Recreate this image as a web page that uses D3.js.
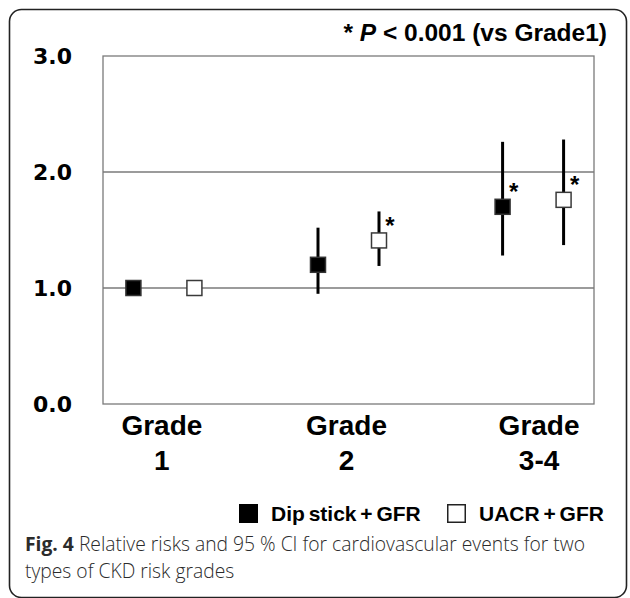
<!DOCTYPE html>
<html lang="en">
<head>
    <meta charset="utf-8" />
    <title>CKD risk grades - relative risks</title>
    <script src="https://cdn.jsdelivr.net/npm/d3@7"></script>
    <style>
        body { margin: 0; background: #fff; }
        svg { display: block; }
    </style>
</head>
<body>
    <div id="chart"></div>
    <script>
        // data
        var grades = ["Grade 1", "Grade 2", "Grade 3-4"];
        var gradeLines = [["Grade", "1"], ["Grade", "2"], ["Grade", "3-4"]];
        var series = ["Dip stick + GFR", "UACR + GFR"];

        var dipRR = [1.0, 1.20, 1.70];
        var dipLow = [null, 0.95, 1.28];
        var dipHigh = [null, 1.52, 2.26];
        var dipSig = [false, false, true];

        var uacrRR = [1.0, 1.41, 1.76];
        var uacrLow = [null, 1.19, 1.37];
        var uacrHigh = [null, 1.66, 2.28];
        var uacrSig = [false, true, true];

        var yTicks = [0, 1, 2, 3];

        var width = 630, height = 598;
        var margin = { top: 56, right: 36, bottom: 194, left: 103 };

        var svg = d3.select("#chart").append("svg")
            .attr("width", width)
            .attr("height", height);

        // outer rounded frame
        svg.append("rect")
            .attr("x", 9.5).attr("y", 9.5)
            .attr("width", 617).attr("height", 588)
            .attr("rx", 12)
            .attr("fill", "none")
            .attr("stroke", "#222")
            .attr("stroke-width", 1.6);

        var x = d3.scalePoint()
            .domain(grades)
            .range([margin.left, width - margin.right])
            .padding(0.33);

        var xs = d3.scalePoint()
            .domain(series)
            .range([-30.5, 30.5]);

        var y = d3.scaleLinear()
            .domain([0, 3])
            .range([height - margin.bottom, margin.top]);

        // grid lines at 1 and 2
        svg.append("g").selectAll("line")
            .data([1, 2])
            .join("line")
            .attr("x1", margin.left).attr("x2", width - margin.right)
            .attr("y1", d => y(d)).attr("y2", d => y(d))
            .attr("stroke", "#7a7a7a")
            .attr("stroke-width", 1.3);

        // plot frame
        svg.append("rect")
            .attr("x", margin.left).attr("y", margin.top)
            .attr("width", width - margin.left - margin.right)
            .attr("height", height - margin.top - margin.bottom)
            .attr("fill", "none")
            .attr("stroke", "#7a7a7a")
            .attr("stroke-width", 1.3);

        // y axis labels
        var yAxis = d3.axisLeft(y)
            .tickValues(yTicks)
            .tickFormat(d3.format(".1f"))
            .tickSize(0)
            .tickPadding(31);
        var yg = svg.append("g")
            .attr("transform", "translate(" + margin.left + ",0)")
            .call(yAxis);
        yg.select(".domain").remove();
        yg.selectAll("text")
            .attr("font-family", "'DejaVu Sans', sans-serif")
            .attr("font-weight", "bold")
            .attr("font-size", 22)
            .attr("fill", "#000")
            .attr("dy", "0.36em");

        // x labels (two lines)
        var xl = svg.append("g").selectAll("text")
            .data(grades)
            .join("text")
            .attr("x", d => x(d))
            .attr("text-anchor", "middle")
            .attr("font-family", "'Liberation Sans', Arial, sans-serif")
            .attr("font-weight", "bold")
            .attr("font-size", 28)
            .attr("fill", "#000");
        xl.append("tspan")
            .attr("x", (d, i) => x(d) + (i === 2 ? 6 : -2))
            .attr("y", 435)
            .text((d, i) => gradeLines[i][0]);
        xl.append("tspan")
            .attr("x", (d, i) => x(d) + (i === 2 ? 6 : -2))
            .attr("y", 470)
            .text((d, i) => gradeLines[i][1]);

        // build point records per series
        var dipPts = grades.map((g, i) => ({ g: g, s: series[0], rr: dipRR[i], lo: dipLow[i], hi: dipHigh[i], sig: dipSig[i], filled: true }));
        var uacrPts = grades.map((g, i) => ({ g: g, s: series[1], rr: uacrRR[i], lo: uacrLow[i], hi: uacrHigh[i], sig: uacrSig[i], filled: false }));
        var pts = dipPts.concat(uacrPts);
        var px = d => x(d.g) + xs(d.s);

        // confidence intervals
        svg.append("g").selectAll("line")
            .data(pts.filter(d => d.lo != null))
            .join("line")
            .attr("x1", px).attr("x2", px)
            .attr("y1", d => y(d.lo)).attr("y2", d => y(d.hi))
            .attr("stroke", "#000")
            .attr("stroke-width", 3);

        // squares
        var sq = 15;
        svg.append("g").selectAll("rect")
            .data(pts)
            .join("rect")
            .attr("x", d => px(d) - sq / 2)
            .attr("y", d => y(d.rr) - sq / 2)
            .attr("width", sq).attr("height", sq)
            .attr("fill", d => d.filled ? "#000" : "#fff")
            .attr("stroke", d => d.filled ? "#333" : "#3a3a3a")
            .attr("stroke-width", 1.5);

        // significance stars
        svg.append("g").selectAll("text")
            .data(pts.filter(d => d.sig))
            .join("text")
            .attr("x", d => px(d) + 11)
            .attr("y", d => y(d.rr) - sq / 2 + 1)
            .attr("text-anchor", "middle")
            .attr("font-family", "'Liberation Sans', Arial, sans-serif")
            .attr("font-weight", "bold")
            .attr("font-size", 24)
            .attr("fill", "#000")
            .text("*");

        // p-value note
        var note = svg.append("text")
            .attr("x", 607).attr("y", 41)
            .attr("text-anchor", "end")
            .attr("font-family", "'Liberation Sans', Arial, sans-serif")
            .attr("font-weight", "bold")
            .attr("font-size", 24.5)
            .attr("fill", "#000");
        note.append("tspan").text("* ");
        note.append("tspan").attr("font-style", "italic").text("P");
        note.append("tspan").text(" < 0.001 (vs Grade1)");

        // legend
        var legendX = [239, 447];
        var lg = svg.append("g").selectAll("g")
            .data(series)
            .join("g")
            .attr("transform", (d, i) => "translate(" + legendX[i] + ",504)");
        lg.append("rect")
            .attr("x", (d, i) => i ? 0.75 : 0)
            .attr("y", (d, i) => i ? 0.75 : 0)
            .attr("width", (d, i) => i ? 17.5 : 19)
            .attr("height", (d, i) => i ? 17.5 : 19)
            .attr("fill", (d, i) => i ? "#fff" : "#000")
            .attr("stroke", (d, i) => i ? "#222" : "none")
            .attr("stroke-width", 1.5);
        lg.append("text")
            .attr("x", 32)
            .attr("y", 17)
            .attr("font-family", "'Liberation Sans', Arial, sans-serif")
            .attr("font-weight", "bold")
            .attr("font-size", 21)
            .attr("word-spacing", -2)
            .attr("fill", "#000")
            .text(d => d);

        // caption
        var cap = svg.append("g")
            .attr("font-family", "'Open Sans', sans-serif")
            .attr("font-size", 19.3)
            .attr("fill", "#2b2b2b");
        var c1 = cap.append("text").attr("x", 25).attr("y", 551);
        c1.append("tspan").attr("font-weight", "bold").text("Fig. 4");
        c1.append("tspan").attr("font-weight", 300).text(" Relative risks and 95 % CI for cardiovascular events for two");
        cap.append("text").attr("x", 25).attr("y", 578)
            .attr("font-weight", 300)
            .text("types of CKD risk grades");
    </script>
</body>
</html>
